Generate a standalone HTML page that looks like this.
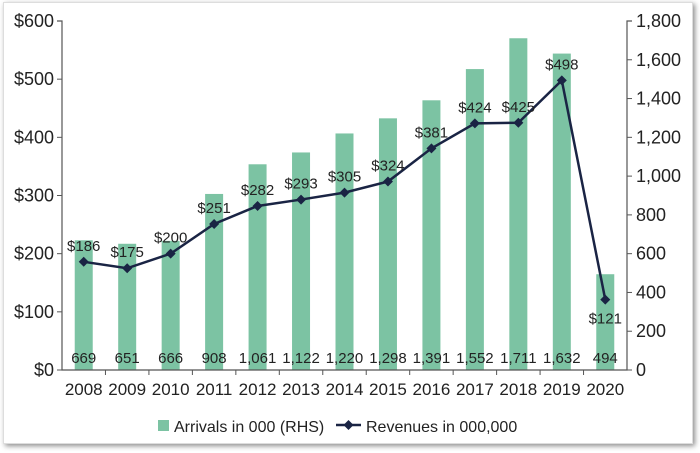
<!DOCTYPE html>
<html><head><meta charset="utf-8"><style>
body{margin:0;background:#fff;}
#wrap{position:absolute;left:0;top:0;width:700px;height:453px;}
#card{position:absolute;left:3px;top:2px;width:688px;height:440px;background:#fff;box-shadow:2px 2px 5px rgba(0,0,0,0.45);border:1px solid #ddd;}
svg{position:absolute;left:0;top:0;}
text{font-family:"Liberation Sans",sans-serif;fill:#222;}
</style></head><body>
<div id="wrap">
<div id="card"></div>
<svg id="chart" width="700" height="453"></svg>
</div>
<script>
const years=["2008","2009","2010","2011","2012","2013","2014","2015","2016","2017","2018","2019","2020"];
const arrivals=[669,651,666,908,1061,1122,1220,1298,1391,1552,1711,1632,494];
const arrivalLabels=["669","651","666","908","1,061","1,122","1,220","1,298","1,391","1,552","1,711","1,632","494"];
const revenues=[186,175,200,251,282,293,305,324,381,424,425,498,121];
const leftTicks=[0,100,200,300,400,500,600];
const rightTicks=[0,200,400,600,800,1000,1200,1400,1600,1800];

const NS="http://www.w3.org/2000/svg";
const svg=document.getElementById('chart');
const X0=62,X1=627,Y0=370,Y1=21;
const bw=(X1-X0)/years.length;
const xc=i=>X0+bw*(i+0.5);
const yL=v=>Y0-v/600*(Y0-Y1);
const yR=v=>Y0-v/1800*(Y0-Y1);
function el(t,a,p){const e=document.createElementNS(NS,t);for(const k in a)e.setAttribute(k,a[k]);(p||svg).appendChild(e);return e;}

years.forEach((y,i)=>{
 const b=el('rect',{x:xc(i)-9,y:yR(arrivals[i]),width:18,height:Y0-yR(arrivals[i]),fill:'#7cc3a3'});
 
 
});
const ax=el('path',{d:`M${X0-5},${Y1}H${X0}V${Y0}H${X1}V${Y1}H${X1+5}`,stroke:'#555',fill:'none','stroke-width':1.2});


leftTicks.forEach(v=>{
 el('line',{x1:X0-5,x2:X0,y1:yL(v),y2:yL(v),stroke:'#555'});
 const t=el('text',{x:X0-8,y:yL(v)+6,'text-anchor':'end','font-size':18});t.textContent='$'+v;
 
 
});
rightTicks.forEach(v=>{
 el('line',{x1:X1,x2:X1+5,y1:yR(v),y2:yR(v),stroke:'#555'});
 const t=el('text',{x:X1+9,y:yR(v)+6,'font-size':18});t.textContent=v.toLocaleString('en-US');
 
 
});
years.forEach((y,i)=>{
 if(i>0) el('line',{x1:X0+bw*i,x2:X0+bw*i,y1:Y0,y2:Y0+5,stroke:'#555'});
 const t=el('text',{x:xc(i),y:Y0+25,'text-anchor':'middle','font-size':17});t.textContent=y;
 
 
 const a=el('text',{x:xc(i),y:Y0-7,'text-anchor':'middle','font-size':15});a.textContent=arrivalLabels[i];
 
 
});
const ln=el('polyline',{points:revenues.map((v,i)=>xc(i)+','+yL(v)).join(' '),fill:'none',stroke:'#1a2444','stroke-width':2.5});


revenues.forEach((v,i)=>{
 const x=xc(i),y=yL(v);
 const m=el('path',{d:`M${x},${y-5}L${x+5},${y}L${x},${y+5}L${x-5},${y}Z`,fill:'#1a2444'});
 
 
 const below=i===years.length-1;
 const t=el('text',{x:x,y:below?y+24:y-11,'text-anchor':'middle','font-size':15});t.textContent='$'+v;
 
 
});
const lg=el('g',{});


const s1=el('rect',{x:158,y:420,width:11,height:11,fill:'#7cc3a3'},lg);


const t1=el('text',{x:174,y:432,'font-size':16},lg);t1.textContent='Arrivals in 000 (RHS)';


el('line',{x1:336,x2:361,y1:425,y2:425,stroke:'#1a2444','stroke-width':2.5},lg);
el('path',{d:'M348.5,420L353.5,425L348.5,430L343.5,425Z',fill:'#1a2444'},lg);
const t2=el('text',{x:366,y:432,'font-size':16},lg);t2.textContent='Revenues in 000,000';


</script>
</body></html>
